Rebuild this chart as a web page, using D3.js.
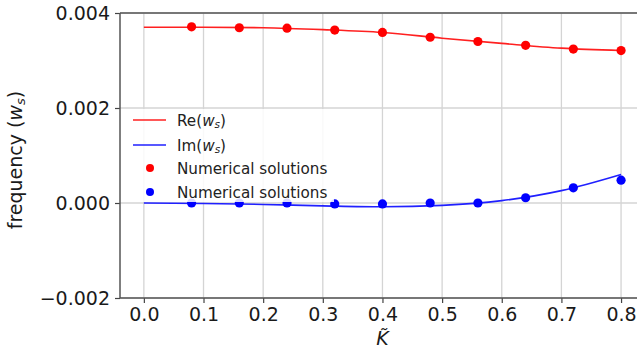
<html lang="en">
<head>
    <meta charset="UTF-8">
    <title>frequency vs K</title>
    <style>
        body { margin: 0; background: #fff; }
        svg { display: block; font-family: "DejaVu Sans", sans-serif; }
    </style>
</head>
<body>
    <script src="https://d3js.org/d3.v7.min.js"></script>
    <script>
        // line (analytic) values, K from 0 to 0.8
        const kLine = [0.0, 0.1, 0.2, 0.3, 0.4, 0.5, 0.6, 0.7, 0.8];
        const reLine = [0.00370, 0.00370, 0.00369, 0.00365, 0.00359, 0.00347, 0.00336, 0.00326, 0.00321];
        const imLine = [0.0, -0.00001, -0.00003, -0.00006, -0.00008, -0.00005, 0.00005, 0.00026, 0.00060];

        // numerical solutions (dots)
        const kDots = [0.08, 0.16, 0.24, 0.32, 0.40, 0.48, 0.56, 0.64, 0.72, 0.80];
        const reDots = [0.00371, 0.00369, 0.00368, 0.00364, 0.00359, 0.00349, 0.00340, 0.00332, 0.00324, 0.00321];
        const imDots = [0.0, 0.0, 0.0, -0.00002, -0.00002, 0.0, 0.0, 0.00011, 0.00032, 0.00048];

        const xTicks = [0.0, 0.1, 0.2, 0.3, 0.4, 0.5, 0.6, 0.7, 0.8];
        const yTicks = [-0.002, 0.000, 0.002, 0.004];

        const w = 637, h = 353;
        const plotLeft = 120, plotTop = 13, plotBottom = 298;

        const svg = d3.select("body").append("svg")
            .attr("width", w)
            .attr("height", h);

        // x axis runs past the right edge of the window (0.84 is off-picture)
        const xScale = d3.scaleLinear().domain([-0.04, 0.84]).range([plotLeft, plotLeft + 0.88 * (477.2 / 0.8)]);
        const yScale = d3.scaleLinear().domain([-0.002, 0.004]).range([plotBottom, plotTop]);

        //grid
        svg.append("g").selectAll("line")
            .data(xTicks)
            .enter().append("line")
            .attr("x1", d => xScale(d)).attr("x2", d => xScale(d))
            .attr("y1", plotTop).attr("y2", plotBottom)
            .attr("stroke", "#d4d4d4").attr("stroke-width", 1.3);
        svg.append("g").selectAll("line")
            .data(yTicks)
            .enter().append("line")
            .attr("x1", plotLeft).attr("x2", w)
            .attr("y1", d => yScale(d)).attr("y2", d => yScale(d))
            .attr("stroke", "#d4d4d4").attr("stroke-width", 1.3);

        //axes
        const xAxis = d3.axisBottom(xScale).tickValues(xTicks).tickFormat(d3.format(".1f")).tickSize(5).tickPadding(5);
        const yAxis = d3.axisLeft(yScale).tickValues(yTicks).tickFormat(d3.format(".3f")).tickSize(5).tickPadding(5);

        const gx = svg.append("g").attr("transform", "translate(0," + plotBottom + ")").call(xAxis);
        const gy = svg.append("g").attr("transform", "translate(" + plotLeft + ",0)").call(yAxis);
        [gx, gy].forEach(g => {
            g.select(".domain").remove();
            g.selectAll(".tick line").attr("stroke", "#444").attr("stroke-width", 1.2);
            g.selectAll(".tick text")
                .attr("fill", "#1a1a1a")
                .style("font-size", "19px")
                .style("font-family", "DejaVu Sans");
        });
        gy.selectAll(".tick text").text(d => d < 0 ? "\u2212" + d3.format(".3f")(-d) : d3.format(".3f")(d));

        //spines
        svg.append("line").attr("x1", plotLeft).attr("x2", plotLeft).attr("y1", plotTop).attr("y2", plotBottom)
            .attr("stroke", "#555").attr("stroke-width", 1.5);
        svg.append("line").attr("x1", plotLeft).attr("x2", w).attr("y1", plotBottom).attr("y2", plotBottom)
            .attr("stroke", "#555").attr("stroke-width", 1.5);
        svg.append("line").attr("x1", plotLeft).attr("x2", w).attr("y1", plotTop).attr("y2", plotTop)
            .attr("stroke", "#555").attr("stroke-width", 1.5);

        //lines
        const line = d3.line().curve(d3.curveMonotoneX)
            .x(d => xScale(d[0])).y(d => yScale(d[1]));

        svg.append("path")
            .attr("d", line(kLine.map((k, i) => [k, reLine[i]])))
            .attr("fill", "none").attr("stroke", "#ff2020").attr("stroke-width", 1.6);
        svg.append("path")
            .attr("d", line(kLine.map((k, i) => [k, imLine[i]])))
            .attr("fill", "none").attr("stroke", "#2020ff").attr("stroke-width", 1.6);

        //dots
        svg.append("g").selectAll("circle")
            .data(kDots.map((k, i) => [k, reDots[i]]))
            .enter().append("circle")
            .attr("cx", d => xScale(d[0])).attr("cy", d => yScale(d[1]))
            .attr("r", 4.6).attr("fill", "red");
        svg.append("g").selectAll("circle")
            .data(kDots.map((k, i) => [k, imDots[i]]))
            .enter().append("circle")
            .attr("cx", d => xScale(d[0])).attr("cy", d => yScale(d[1]))
            .attr("r", 4.6).attr("fill", "blue");

        //legend
        const legend = svg.append("g");
        legend.append("rect")
            .attr("x", 124).attr("y", 109).attr("width", 210).attr("height", 93)
            .attr("fill", "white").attr("fill-opacity", 0.85);

        const entries = [
            { type: "line", color: "#ff2020", label: "Re", y: 120 },
            { type: "line", color: "#2020ff", label: "Im", y: 145 },
            { type: "dot", color: "red", label: "Numerical solutions", y: 168 },
            { type: "dot", color: "blue", label: "Numerical solutions", y: 192 }
        ];
        entries.forEach(e => {
            if (e.type == "line") {
                legend.append("line").attr("x1", 133).attr("x2", 166).attr("y1", e.y).attr("y2", e.y)
                    .attr("stroke", e.color).attr("stroke-width", 1.6);
            } else {
                legend.append("circle").attr("cx", 150).attr("cy", e.y).attr("r", 4).attr("fill", e.color);
            }
            const t = legend.append("text")
                .attr("x", 177).attr("y", e.y + 5.5)
                .attr("fill", "#222")
                .style("font-size", "15.2px");
            if (e.type == "line") {
                t.append("tspan").text(e.label + "(");
                t.append("tspan").attr("font-style", "italic").text("w");
                t.append("tspan").attr("font-style", "italic").attr("font-size", "10.5px").attr("dy", 2.5).text("s");
                t.append("tspan").attr("dy", -2.5).text(")");
            } else {
                t.text(e.label);
            }
        });

        //axis titles
        const ylab = svg.append("text")
            .attr("text-anchor", "middle")
            .attr("transform", "translate(22,160) rotate(-90)")
            .attr("fill", "#1a1a1a")
            .style("font-size", "19px");
        ylab.append("tspan").text("frequency (");
        ylab.append("tspan").attr("font-style", "italic").text("w");
        ylab.append("tspan").attr("font-style", "italic").attr("font-size", "13px").attr("dy", 3).text("s");
        ylab.append("tspan").attr("dy", -3).text(")");

        svg.append("text")
            .attr("text-anchor", "middle")
            .attr("x", xScale(0.4))
            .attr("y", 345)
            .attr("fill", "#1a1a1a")
            .attr("font-style", "italic")
            .style("font-size", "19px")
            .text("K\u0303");
    </script>
</body>
</html>
